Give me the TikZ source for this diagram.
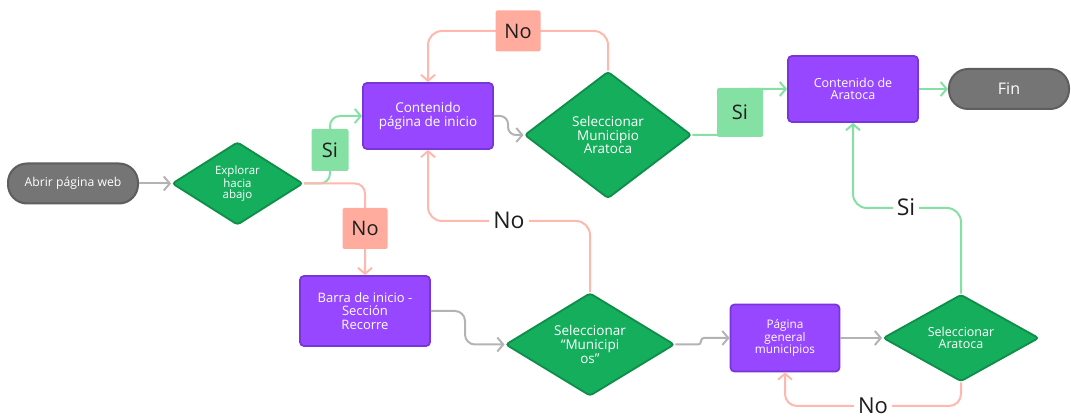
\documentclass[tikz,border=0pt]{standalone}
\usepackage{fontspec}
\setmainfont{Open Sans}
\usetikzlibrary{shapes.geometric,arrows.meta}
\definecolor{termfill}{HTML}{757575}
\definecolor{termdraw}{HTML}{5E5E5E}
\definecolor{procfill}{HTML}{9747FF}
\definecolor{procdraw}{HTML}{7A35D8}
\definecolor{decfill}{HTML}{14AE5C}
\definecolor{decdraw}{HTML}{0E8E48}
\definecolor{flowgray}{HTML}{B3B3B3}
\definecolor{flowgreen}{HTML}{85E0A3}
\definecolor{flowred}{HTML}{FFB8AE}
\definecolor{tagred}{HTML}{FFAC9E}
\definecolor{taggreen}{HTML}{85E0A3}
\definecolor{tagtext}{HTML}{1E1E1E}
\newcommand{\fs}[2]{\fontsize{#1}{#2}\selectfont}
\tikzset{
  terminal/.style={rectangle, draw=termdraw, fill=termfill, line width=2pt,
    rounded corners=19pt, text=white, inner sep=0pt, align=center},
  process/.style={rectangle, draw=procdraw, fill=procfill, line width=1.8pt,
    rounded corners=4pt, text=white, inner sep=0pt, align=center},
  decision/.style={diamond, draw=decdraw, fill=decfill, line width=1.8pt,
    rounded corners=3pt, text=white, inner sep=0pt, align=center},
  flow/.style={line width=2pt, rounded corners=10pt,
    -{Straight Barb[length=6pt,width=14pt,sharp]}},
  tag/.style={rectangle, rounded corners=2pt, text=tagtext, inner sep=0pt,
    font=\fs{20}{22}},
  tagyes/.style={tag, fill=taggreen},
  tagno/.style={tag, fill=tagred},
  freelabel/.style={fill=white, text=tagtext, inner xsep=4pt, inner ysep=1pt,
    text height=16pt, text depth=0pt, font=\fs{23}{24}},
}
\begin{document}
\begin{tikzpicture}[x=1pt, y=-1pt]
\useasboundingbox (0,0) rectangle (1071,419);

% start / end
\node[terminal, minimum width=130pt, minimum height=40pt, font=\fs{12.2}{14}]
  (abrir) at (73,183.5) {Abrir página web};
\node[terminal, minimum width=120pt, minimum height=40pt, font=\fs{16}{18}]
  (fin) at (1009,89) {Fin};

% decisions
\node[decision, minimum width=131pt, minimum height=83pt, shape aspect=1.58,
  font=\fs{11.5}{10.8}] (explorar) at (237.5,183.5) {Explorar\\hacia\\abajo};
\node[decision, minimum width=167pt, minimum height=127pt, shape aspect=1.31,
  font=\fs{13.5}{13.6}] (selmun) at (608,135) {Seleccionar\\Municipio\\Aratoca};
\node[decision, minimum width=169pt, minimum height=103pt, shape aspect=1.64,
  font=\fs{13.5}{13.8}] (selmuns) at (590,344.5) {Seleccionar\\“Municipi\\os”};
\node[decision, minimum width=156pt, minimum height=87pt, shape aspect=1.79,
  font=\fs{12.5}{12.5}] (selar) at (961,338) {Seleccionar\\Aratoca};

% processes
\node[process, minimum width=130pt, minimum height=66pt, font=\fs{13.5}{14.2}]
  (inicio) at (428,116) {Contenido\\página de inicio};
\node[process, minimum width=130pt, minimum height=66pt, font=\fs{12.5}{12.6}]
  (aratoca) at (853,89) {Contenido de\\Aratoca};
\node[process, minimum width=130pt, minimum height=70pt, font=\fs{13}{13.8}]
  (barra) at (365,311) {Barra de inicio -\\Sección\\Recorre};
\node[process, minimum width=109pt, minimum height=67pt, font=\fs{11.8}{12.2}]
  (pagina) at (785,338) {Página\\general\\municipios};

% connectors
\draw[flow, flowgray] (abrir.east) -- (explorar.west);
\draw[flow, flowgreen] (explorar.east) -- (330,183.5) -- (330,116) -- (inicio.west);
\draw[flow, flowred] (explorar.east) -- (365,183.5) -- (barra.north);
\draw[flow, flowgray, rounded corners=8pt] (inicio.east) -- (508,116) -- (508,135) -- (selmun.west);
\draw[flow, flowred, rounded corners=14pt] (selmun.north) -- (608,31) -- (428,31) -- (inicio.north);
\draw[flow, flowgreen] (selmun.east) -- (740,135) -- (740,89) -- (aratoca.west);
\draw[flow, flowgreen] (aratoca.east) -- (fin.west);
\draw[flow, flowgray] (barra.east) -- (465,311) -- (465,344.5) -- (selmuns.west);
\draw[flow, flowred, rounded corners=14pt] (selmuns.north) -- (590,221) -- (428,221) -- (inicio.south);
\draw[flow, flowgray, rounded corners=3pt] (selmuns.east) -- (701,344.5) -- (701,338) -- (pagina.west);
\draw[flow, flowgray] (pagina.east) -- (selar.west);
\draw[flow, flowgreen, rounded corners=14pt] (selar.north) -- (961,208) -- (853,208) -- (aratoca.south);
\draw[flow, flowred, rounded corners=12pt] (selar.south) -- (961,406) -- (785,406) -- (pagina.south);

% branch labels
\node[tagyes, minimum width=37pt, minimum height=42pt] (siexplorar) at (330,150) {Si};
\node[tagno, minimum width=45pt, minimum height=41pt] (noexplorar) at (365,228.5) {No};
\node[tagno, minimum width=45pt, minimum height=41pt] (noselmun) at (518,31) {No};
\node[tagyes, minimum width=46pt, minimum height=49pt] (siselmun) at (740,112.5) {Si};
\node[freelabel] (noselmuns) at (509,221) {No};
\node[freelabel] (siselar) at (906,208) {Si};
\node[freelabel, font=\fs{22}{23}, text height=15pt] (noselar) at (873,406) {No};
\end{tikzpicture}
\end{document}
